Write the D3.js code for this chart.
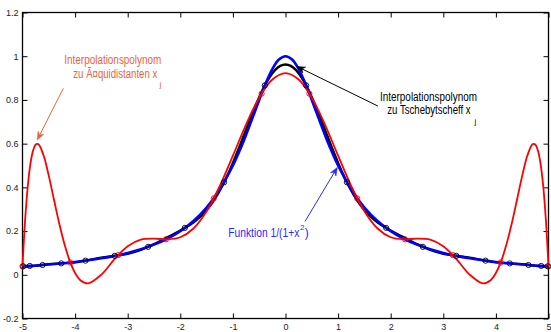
<!DOCTYPE html>
<html>
<head>
<meta charset="utf-8">
<script src="https://cdn.jsdelivr.net/npm/d3@7"></script>
<style>
  body { margin: 0; background: #fff; }
  svg { display: block; }
  .tick text { font-family: "Liberation Sans Narrow", "Arial Narrow", "Liberation Sans", sans-serif; font-size: 9px; fill: #222; }
  .note { font-family: "Liberation Sans Narrow", "Arial Narrow", "Liberation Sans", sans-serif; font-size: 12px; }
</style>
</head>
<body>
<div id="chart"></div>
<script>
// Axis ticks
const xTicks = [-5, -4, -3, -2, -1, 0, 1, 2, 3, 4, 5];
const xTickLabels = ["-5", "-4", "-3", "-2", "-1", "0", "1", "2", "3", "4", "5"];
const yTicks = [-0.2, 0, 0.2, 0.4, 0.6, 0.8, 1, 1.2];
const yTickLabels = ["-0.2", "0", "0.2", "0.4", "0.6", "0.8", "1", "1.2"];

// Funktion 1/(1+x^2)  (blue)
const funcX = [-5, -4.75, -4.5, -4.25, -4, -3.75, -3.5, -3.25, -3, -2.75, -2.5, -2.25, -2, -1.75, -1.5, -1.25, -1,
  -0.875, -0.75, -0.625, -0.5, -0.375, -0.25, -0.125, 0, 0.125, 0.25, 0.375, 0.5, 0.625, 0.75, 0.875,
  1, 1.25, 1.5, 1.75, 2, 2.25, 2.5, 2.75, 3, 3.25, 3.5, 3.75, 4, 4.25, 4.5, 4.75, 5];
const funcY = [0.03846, 0.04244, 0.04706, 0.05246, 0.05882, 0.06639, 0.07547, 0.08649, 0.1, 0.11679, 0.13793, 0.16495, 0.2, 0.24615, 0.30769, 0.39024, 0.5,
  0.56637, 0.64, 0.71910, 0.8, 0.87671, 0.94118, 0.98462, 1, 0.98462, 0.94118, 0.87671, 0.8, 0.71910, 0.64, 0.56637,
  0.5, 0.39024, 0.30769, 0.24615, 0.2, 0.16495, 0.13793, 0.11679, 0.1, 0.08649, 0.07547, 0.06639, 0.05882, 0.05246, 0.04706, 0.04244, 0.03846];

// Interpolationspolynom zu Tschebytscheff x_j  (black)
const chebX = [-5, -4.75, -4.5, -4.25, -4, -3.75, -3.5, -3.25, -3, -2.75, -2.5, -2.25, -2,
  -1.9, -1.8, -1.7, -1.6, -1.5, -1.4, -1.3, -1.2, -1.1, -1, -0.9, -0.8, -0.7, -0.6, -0.5, -0.4, -0.3, -0.2, -0.1, 0,
  0.1, 0.2, 0.3, 0.4, 0.5, 0.6, 0.7, 0.8, 0.9, 1, 1.1, 1.2, 1.3, 1.4, 1.5, 1.6, 1.7, 1.8, 1.9,
  2, 2.25, 2.5, 2.75, 3, 3.25, 3.5, 3.75, 4, 4.25, 4.5, 4.75, 5];
const chebY = [0.03702, 0.04085, 0.04868, 0.05226, 0.05671, 0.06717, 0.07825, 0.08653, 0.09641, 0.11413, 0.14052, 0.17113, 0.20276,
  0.21645, 0.23169, 0.24940, 0.27062, 0.29633, 0.32741, 0.36447, 0.40776, 0.45712, 0.51189, 0.57093, 0.63262, 0.69499, 0.75578, 0.81261, 0.86307, 0.90496, 0.93636, 0.95582, 0.96241,
  0.95582, 0.93636, 0.90496, 0.86307, 0.81261, 0.75578, 0.69499, 0.63262, 0.57093, 0.51189, 0.45712, 0.40776, 0.36447, 0.32741, 0.29633, 0.27062, 0.24940, 0.23169, 0.21645,
  0.20276, 0.17113, 0.14052, 0.11413, 0.09641, 0.08653, 0.07825, 0.06717, 0.05671, 0.05226, 0.04868, 0.04085, 0.03702];

// Interpolationspolynom zu aequidistanten x_j  (red)
const equiX = [-5, -4.95, -4.9, -4.85, -4.8, -4.75, -4.7, -4.6, -4.5, -4.4, -4.3, -4.2, -4.1, -4, -3.9, -3.75, -3.5, -3.25, -3,
  -2.75, -2.5, -2.25, -2, -1.75, -1.5, -1.25, -1, -0.75, -0.5, -0.25, 0, 0.25, 0.5, 0.75, 1, 1.25, 1.5, 1.75, 2, 2.25, 2.5, 2.75,
  3, 3.25, 3.5, 3.75, 3.9, 4, 4.1, 4.2, 4.3, 4.4, 4.5, 4.6, 4.7, 4.75, 4.8, 4.85, 4.9, 4.95, 5];
const equiY = [0.03846, 0.25161, 0.40409, 0.50635, 0.56756, 0.59573, 0.59779, 0.54671, 0.45242, 0.34191, 0.23335, 0.13807, 0.06221, 0.00808, -0.02472, -0.03901, 0.00091, 0.07142, 0.13070,
  0.16089, 0.16564, 0.16210, 0.17160, 0.21163, 0.29067, 0.40604, 0.54485, 0.68709, 0.81014, 0.89349, 0.92297, 0.89349, 0.81014, 0.68709, 0.54485, 0.40604, 0.29067, 0.21163, 0.17160, 0.16210, 0.16564, 0.16089,
  0.13070, 0.07142, 0.00091, -0.03901, -0.02472, 0.00808, 0.06221, 0.13807, 0.23335, 0.34191, 0.45242, 0.54671, 0.59779, 0.59573, 0.56756, 0.50635, 0.40409, 0.25161, 0.03846];

// Stuetzstellen
const chebNodeX = [-4.98459, -4.86185, -4.61940, -4.26320, -3.80203, -3.24724, -2.61250, -1.91342, -1.16723, -0.39230,
  0.39230, 1.16723, 1.91342, 2.61250, 3.24724, 3.80203, 4.26320, 4.61940, 4.86185, 4.98459];
const chebNodeY = [0.03869, 0.04059, 0.04477, 0.05215, 0.06470, 0.08662, 0.12779, 0.21454, 0.42329, 0.86663,
  0.86663, 0.42329, 0.21454, 0.12779, 0.08662, 0.06470, 0.05215, 0.04477, 0.04059, 0.03869];
const equiNodeX = [-5, -4.0909, -3.1818, -2.2727, -1.3636, -0.4545, 0.4545, 1.3636, 2.2727, 3.1818, 4.0909, 5];
const equiNodeY = [0.03846, 0.05638, 0.08990, 0.16220, 0.34971, 0.82877, 0.82877, 0.34971, 0.16220, 0.08990, 0.05638, 0.03846];

const width = 551, height = 332;
const padL = 22.5, padR = 548.5, padT = 12.5, padB = 318.5;

const svg = d3.select("#chart")
  .append("svg")
    .attr("width", width)
    .attr("height", height);

const x = d3.scaleLinear().domain([-5, 5]).range([padL, padR]);
const y = d3.scaleLinear().domain([-0.2, 1.2]).range([padB, padT]);

const zip = (xs, ys) => xs.map((v, i) => [v, ys[i]]);

// axes, ticks pointing inward on all four sides
const styleAxis = g => {
  g.select(".domain").remove();
  g.selectAll(".tick line").attr("stroke", "#000");
};

svg.append("g")
  .attr("transform", `translate(0,${padB})`)
  .call(d3.axisBottom(x).tickValues(xTicks).tickFormat((d, i) => xTickLabels[i])
    .tickSizeInner(-5).tickSizeOuter(0).tickPadding(5))
  .call(styleAxis);

svg.append("g")
  .attr("transform", `translate(0,${padT})`)
  .call(d3.axisTop(x).tickValues(xTicks).tickFormat("").tickSizeInner(-5).tickSizeOuter(0))
  .call(styleAxis);

svg.append("g")
  .attr("transform", `translate(${padL},0)`)
  .call(d3.axisLeft(y).tickValues(yTicks).tickFormat((d, i) => yTickLabels[i])
    .tickSizeInner(-5).tickSizeOuter(0).tickPadding(4))
  .call(styleAxis);

svg.append("g")
  .attr("transform", `translate(${padR},0)`)
  .call(d3.axisRight(y).tickValues(yTicks).tickFormat("").tickSizeInner(-5).tickSizeOuter(0))
  .call(styleAxis);

svg.append("rect")
  .attr("x", padL).attr("y", padT)
  .attr("width", padR - padL).attr("height", padB - padT)
  .attr("fill", "none").attr("stroke", "#000").attr("stroke-width", 1.3);

// curves
const line = d3.line()
  .x(d => x(d[0]))
  .y(d => y(d[1]))
  .curve(d3.curveCatmullRom.alpha(0.5));

svg.append("path").datum(zip(chebX, chebY))
  .attr("d", line).attr("fill", "none").attr("stroke", "#000").attr("stroke-width", 2.4);

svg.append("path").datum(zip(funcX, funcY))
  .attr("d", line).attr("fill", "none").attr("stroke", "#0000ff").attr("stroke-width", 2.6);

svg.append("path").datum(zip(equiX, equiY))
  .attr("d", line).attr("fill", "none").attr("stroke", "#ff0000").attr("stroke-width", 1.8);

// node markers
svg.append("g").selectAll("circle")
  .data(zip(equiNodeX, equiNodeY))
  .join("circle")
    .attr("cx", d => x(d[0])).attr("cy", d => y(d[1])).attr("r", 2.6)
    .attr("fill", "none").attr("stroke", "#ff0000").attr("stroke-width", 0.9);

svg.append("g").selectAll("circle")
  .data(zip(chebNodeX, chebNodeY))
  .join("circle")
    .attr("cx", d => x(d[0])).attr("cy", d => y(d[1])).attr("r", 2.6)
    .attr("fill", "none").attr("stroke", "#000").attr("stroke-width", 0.9);

// annotation arrows (data coordinates: tail -> head)
const arrow = (x1, y1, x2, y2, color) => {
  const px1 = x(x1), py1 = y(y1), px2 = x(x2), py2 = y(y2);
  const a = Math.atan2(py2 - py1, px2 - px1);
  const len = 8, half = 3.2, notch = 5.5;
  const pt = (d, o) => [px2 - d * Math.cos(a) - o * Math.sin(a), py2 - d * Math.sin(a) + o * Math.cos(a)];
  svg.append("line")
    .attr("x1", px1).attr("y1", py1)
    .attr("x2", pt(notch, 0)[0]).attr("y2", pt(notch, 0)[1])
    .attr("stroke", color).attr("stroke-width", 1);
  svg.append("polygon")
    .attr("points", [[px2, py2], pt(len, half), pt(notch, 0), pt(len, -half)].map(p => p.join(",")).join(" "))
    .attr("fill", color).attr("stroke", color).attr("stroke-width", 0.6);
};

arrow(-4.224, 0.853, -4.719, 0.617, "#e8643c");
arrow(1.757, 0.772, 0.219, 0.953, "#000");
arrow(0.371, 0.244, 0.985, 0.491, "#2a2aff");

// annotation texts
const note = (tx, ty, str, color, len, size) => {
  const t = svg.append("text")
    .attr("class", "note")
    .attr("x", x(tx)).attr("y", y(ty))
    .attr("fill", color)
    .text(str);
  if (size) t.style("font-size", size + "px");
  if (len) t.attr("textLength", len).attr("lengthAdjust", "spacingAndGlyphs");
};

note(-4.205, 0.963, "Interpolationspolynom", "#e8643c", 97);
note(-4.034, 0.899, "zu Ã¤quidistanten x", "#e8643c", 84);
note(-2.395, 0.857, "j", "#e8643c", null, 8);

note(1.797, 0.795, "Interpolationspolynom", "#000", 97);
note(1.935, 0.734, "zu Tschebytscheff x", "#000", 83.4);
note(3.593, 0.691, "j", "#000", null, 8);

// blue label with superscript, one text element
const funcLabel = svg.append("text")
  .attr("class", "note")
  .attr("x", x(-1.087)).attr("y", y(0.1706))
  .attr("fill", "#2a2aff");
funcLabel.append("tspan")
  .attr("textLength", 71).attr("lengthAdjust", "spacingAndGlyphs")
  .text("Funktion 1/(1+x");
funcLabel.append("tspan")
  .attr("dx", 0.6).attr("dy", -7).style("font-size", "8px")
  .text("2");
funcLabel.append("tspan")
  .attr("dx", 0.4).attr("dy", 7)
  .text(")");
</script>
</body>
</html>
